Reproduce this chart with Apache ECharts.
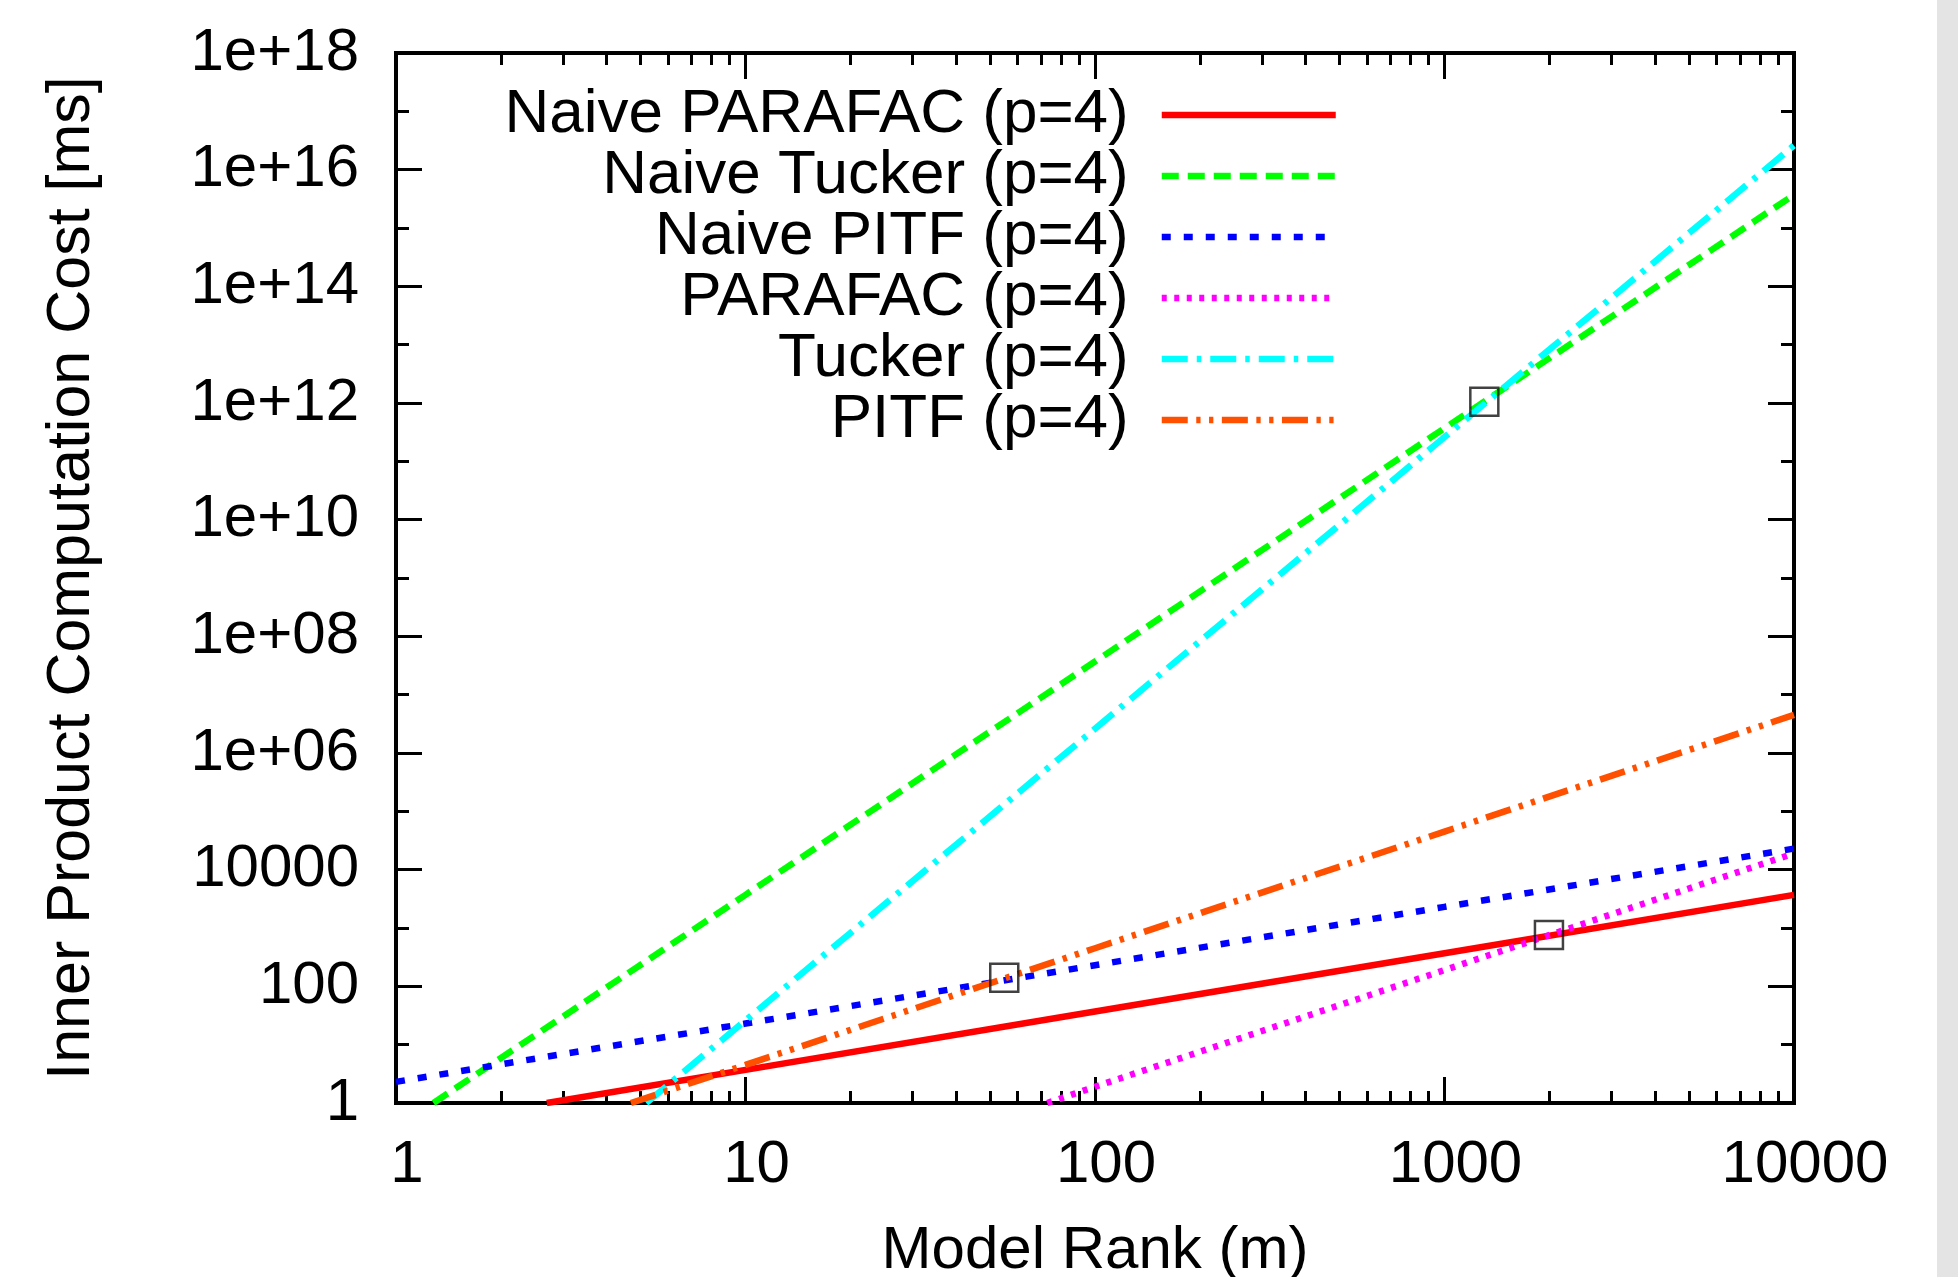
<!DOCTYPE html>
<html><head><meta charset="utf-8">
<script src="https://cdn.jsdelivr.net/npm/echarts@6/dist/echarts.min.js"></script>
<style>html,body{margin:0;padding:0;background:#fff}#c{width:1958px;height:1277px}</style>
</head><body><div id="c"></div>
<script>
// ---- data (x = model rank m, y = cost in ms) ----
const seriesNames = ['Naive PARAFAC (p=4)', 'Naive Tucker (p=4)', 'Naive PITF (p=4)', 'PARAFAC (p=4)', 'Tucker (p=4)', 'PITF (p=4)'];
const naiveParafac = [[2.7, 1], [10, 3.7], [100, 37], [1000, 370], [10000, 3700]];
const naiveTucker  = [[1.28, 1], [10, 3700], [100, 3.7e7], [1000, 3.7e11], [10000, 3.7e15]];
const naivePitf    = [[1, 2.3], [10, 23], [100, 230], [1000, 2300], [10000, 23000]];
const parafac      = [[73, 1], [100, 1.9], [1000, 190], [10000, 19000]];
const tucker       = [[5.2, 1], [10, 26], [100, 2.6e6], [1000, 2.6e11], [10000, 2.6e16]];
const pitf         = [[4.7, 1], [10, 4.5], [100, 450], [1000, 45000], [10000, 4.5e6]];
const crossMarkers = [[1300, 1.05e12], [55, 141], [1990, 760]];

const xTickValues = [1, 10, 100, 1000, 10000];
const xTickLabels = ['1', '10', '100', '1000', '10000'];
const xMinorTicks = [2,3,4,5,6,7,8,9,20,30,40,50,60,70,80,90,200,300,400,500,600,700,800,900,2000,3000,4000,5000,6000,7000,8000,9000];
const yTickValues = [1, 1e2, 1e4, 1e6, 1e8, 1e10, 1e12, 1e14, 1e16, 1e18];
const yTickLabels = ['1', '100', '10000', '1e+06', '1e+08', '1e+10', '1e+12', '1e+14', '1e+16', '1e+18'];
const yMinorTicks = [1e1, 1e3, 1e5, 1e7, 1e9, 1e11, 1e13, 1e15, 1e17];

// ---- styling ----
const FONT = 'Liberation Sans';
const colors = ['#ff0000', '#00ff00', '#0000ff', '#ff00ff', '#00ffff', '#ff5000'];
const dashes = ['solid', [17, 9], [9, 13], [5, 7.5], [26, 9, 4.5, 9], [26, 8.5, 4.3, 8.5, 4.3, 8.5]];
const seriesData = [naiveParafac, naiveTucker, naivePitf, parafac, tucker, pitf];
const LW = 6.5;

function labelFor(values, labels) {
  return function (v) {
    for (let i = 0; i < values.length; i++) {
      if (Math.abs(Math.log10(values[i]) - Math.log10(v)) < 1e-5) return labels[i];
    }
    return '';
  };
}
const tickLine = { color: '#000', width: 3 };
const labelStyle = { fontSize: 60, fontFamily: FONT, color: '#000' };

function xAxisDef(pos, major) {
  return {
    type: 'log', logBase: 10, min: 1, max: 10000, position: pos,
    axisLine: { show: false }, splitLine: { show: false }, minorTick: { show: false },
    axisTick: { show: true, inside: true, length: major ? 26 : 12, lineStyle: tickLine,
                customValues: major ? xTickValues : xMinorTicks },
    axisLabel: (pos === 'bottom' && major)
      ? Object.assign({ show: true, margin: 32, padding: [0, 0, 0, 22], showMinLabel: true, showMaxLabel: true, hideOverlap: false,
                        customValues: xTickValues, formatter: labelFor(xTickValues, xTickLabels) }, labelStyle)
      : { show: false }
  };
}
function yAxisDef(pos, major) {
  return {
    type: 'log', logBase: 10, min: 1, max: 1.0000001e18, position: pos,
    axisLine: { show: false }, splitLine: { show: false }, minorTick: { show: false },
    axisTick: { show: true, inside: true, length: major ? 26 : 13, lineStyle: tickLine,
                customValues: major ? yTickValues : yMinorTicks },
    axisLabel: (pos === 'left' && major)
      ? Object.assign({ show: true, margin: 37, padding: [5, 0, 0, 0], showMinLabel: true, showMaxLabel: true, hideOverlap: false,
                        customValues: yTickValues, formatter: labelFor(yTickValues, yTickLabels) }, labelStyle)
      : { show: false }
  };
}

const xAxes = [xAxisDef('bottom', true), xAxisDef('bottom', false), xAxisDef('top', true), xAxisDef('top', false)];
xAxes[0].name = 'Model Rank (m)';
xAxes[0].nameLocation = 'middle';
xAxes[0].nameGap = 118;
xAxes[0].nameTextStyle = labelStyle;
const yAxes = [yAxisDef('left', true), yAxisDef('left', false), yAxisDef('right', true), yAxisDef('right', false)];
yAxes[0].name = 'Inner Product Computation Cost [ms]';
yAxes[0].nameLocation = 'middle';
yAxes[0].nameGap = 293;
yAxes[0].nameTextStyle = { fontSize: 61, fontFamily: FONT, color: '#000' };

const series = seriesNames.map((name, i) => ({
  name: name, type: 'line', data: seriesData[i], symbol: 'none', showSymbol: false,
  xAxisIndex: 0, yAxisIndex: 0, clip: true, silent: true,
  lineStyle: { color: colors[i], width: LW, type: dashes[i], cap: 'butt' },
  itemStyle: { color: colors[i] }
}));
series.push({
  name: 'crossings', type: 'scatter', data: crossMarkers, symbol: 'rect', symbolSize: 28,
  xAxisIndex: 0, yAxisIndex: 0, silent: true, z: 5,
  itemStyle: { color: 'rgba(0,0,0,0)', borderColor: '#111', borderWidth: 2.5 }
});

const chart = echarts.init(document.getElementById('c'), null, { renderer: 'canvas' });
chart.setOption({
  animation: false,
  backgroundColor: '#ffffff',
  grid: { left: 396, right: 164, top: 53, bottom: 174, show: true, borderColor: '#000', borderWidth: 4,
          backgroundColor: 'rgba(0,0,0,0)', containLabel: false, outerBoundsMode: 'none' },
  xAxis: xAxes,
  yAxis: yAxes,
  legend: {
    data: seriesNames, orient: 'vertical', align: 'right', right: 619, top: 84, padding: 0,
    itemWidth: 174, itemHeight: 20, itemGap: -1, selectedMode: false,
    textStyle: { fontSize: 62, fontFamily: FONT, color: '#000', lineHeight: 60, padding: [0, 28, 0, 0] },
    itemStyle: { opacity: 0 },
    lineStyle: { width: LW }
  },
  graphic: [
    { type: 'rect', shape: { x: 1937, y: 0, width: 21, height: 1277 }, style: { fill: '#e4e4e4' }, silent: true }
  ],
  series: series
});
</script>
</body></html>
